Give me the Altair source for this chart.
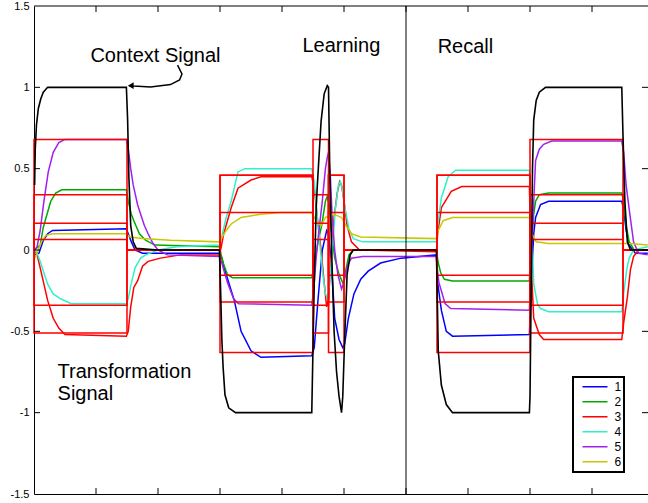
import altair as alt
import pandas as pd

# ---------------- data (time in steps, value in signal units) ----------------
series_names = ["1", "2", "3", "4", "5", "6"]
series_colors = ["#0000FF", "#00A800", "#FF0000", "#30F0C8", "#A020F0", "#C8C800"]

blue_t = [1, 8, 15, 22, 30, 149, 152, 157, 163, 175, 299, 303, 306, 314, 323, 334, 350, 366, 448,
          452, 458, 465, 472, 475, 480, 485, 492, 498, 501, 507, 516, 527, 539, 559, 592, 649,
          651, 657, 665, 675, 799, 802, 806, 809, 817, 830, 948, 951, 955, 960, 970, 990]
blue_y = [-0.03, -0.02, 0.06, 0.10, 0.12, 0.13, 0.10, 0.05, 0.0, -0.02, -0.02, -0.05, -0.10, -0.20, -0.31, -0.50, -0.62, -0.66, -0.65,
          -0.60, -0.31, 0.0, 0.12, 0.10, -0.10, -0.42, -0.55, -0.60, -0.58, -0.42, -0.27, -0.18, -0.13, -0.08, -0.05, -0.03,
          -0.20, -0.37, -0.50, -0.53, -0.52, -0.20, 0.10, 0.20, 0.28, 0.30, 0.30, 0.25, 0.12, 0.03, -0.02, -0.02]

green_t = [1, 10, 15, 21, 27, 35, 45, 149, 152, 157, 161, 170, 180, 195, 299, 302, 306, 312, 320, 448,
           452, 458, 464, 470, 473, 476, 480, 485, 492, 499, 503, 508, 515, 649,
           652, 656, 662, 675, 799, 802, 806, 809, 815, 830, 948, 951, 955, 960, 968, 990]
green_y = [0.0, 0.03, 0.14, 0.22, 0.30, 0.35, 0.37, 0.37, 0.30, 0.22, 0.18, 0.10, 0.06, 0.03, 0.02, -0.03, -0.09, -0.15, -0.17, -0.17,
           -0.10, 0.05, 0.15, 0.30, 0.33, 0.28, 0.10, -0.05, -0.15, -0.21, -0.12, -0.03, 0.0, 0.0,
           -0.08, -0.14, -0.18, -0.19, -0.19, 0.05, 0.22, 0.30, 0.34, 0.35, 0.35, 0.30, 0.15, 0.05, 0.0, 0.0]

red_t = [1, 5, 10, 22, 31, 40, 50, 149, 152, 156, 161, 167, 175, 184, 204, 236, 299, 302, 306, 318, 329, 350, 366, 448,
         452, 457, 463, 468, 472, 475, 479, 484, 489, 493, 496, 500, 505, 512, 525, 649,
         651, 657, 673, 690, 799, 802, 806, 815, 822, 948, 951, 957, 962, 967, 975, 990]
red_y = [0.0, -0.03, -0.11, -0.31, -0.42, -0.48, -0.52, -0.53, -0.50, -0.35, -0.23, -0.19, -0.10, -0.07, -0.05, -0.03, -0.03, 0.02, 0.10, 0.26, 0.38, 0.43, 0.45, 0.45,
         0.38, 0.20, 0.0, -0.20, -0.35, -0.30, -0.05, 0.20, 0.35, 0.42, 0.40, 0.30, 0.15, 0.05, 0.0, -0.01,
         0.10, 0.26, 0.36, 0.39, 0.39, -0.10, -0.42, -0.52, -0.55, -0.55, -0.45, -0.29, -0.12, -0.04, 0.0, 0.0]

cyan_t = [1, 5, 10, 22, 31, 43, 60, 149, 152, 156, 163, 172, 180, 200, 230, 299, 302, 310, 318, 329, 340, 448,
          452, 457, 462, 466, 470, 474, 477, 481, 486, 491, 494, 497, 502, 508, 515, 530, 649,
          651, 657, 668, 680, 799, 802, 806, 812, 817, 830, 948, 950, 951, 956, 960, 967, 990]
cyan_y = [0.0, -0.02, -0.07, -0.21, -0.27, -0.30, -0.33, -0.33, -0.30, -0.22, -0.11, -0.05, -0.03, 0.0, 0.02, 0.03, 0.07, 0.20, 0.30, 0.48, 0.50, 0.50,
          0.42, 0.20, 0.0, -0.15, -0.27, -0.30, -0.20, 0.0, 0.25, 0.40, 0.42, 0.38, 0.25, 0.13, 0.07, 0.05, 0.05,
          0.15, 0.32, 0.45, 0.49, 0.49, 0.20, -0.21, -0.33, -0.36, -0.38, -0.38, -0.33, -0.27, -0.12, -0.05, 0.0, 0.02]

purple_t = [1, 5, 10, 16, 23, 31, 40, 50, 149, 152, 156, 160, 167, 172, 178, 184, 192, 200, 215, 299,
            303, 308, 313, 322, 330, 448, 451, 455, 459, 465, 470, 473, 475, 478, 481, 485, 490, 496, 500, 505, 512, 530, 649,
            650, 653, 657, 663, 672, 799, 802, 806, 809, 815, 822, 835, 948, 951, 955, 960, 967, 975, 990]
purple_y = [0.0, 0.02, 0.12, 0.30, 0.48, 0.60, 0.66, 0.68, 0.68, 0.62, 0.50, 0.40, 0.28, 0.22, 0.15, 0.10, 0.04, 0.0, -0.03, -0.04,
            -0.08, -0.15, -0.21, -0.30, -0.33, -0.34, -0.25, -0.05, 0.10, 0.30, 0.50, 0.57, 0.60, 0.45, 0.20, 0.0, -0.15, -0.24, -0.20, -0.10, -0.05, -0.04, -0.04,
            -0.10, -0.20, -0.25, -0.33, -0.36, -0.37, -0.10, 0.30, 0.55, 0.62, 0.65, 0.67, 0.67, 0.60, 0.40, 0.25, 0.05, -0.02, -0.03]

yellow_t = [1, 5, 12, 19, 30, 149, 155, 175, 220, 299, 302, 310, 318, 334, 366, 398, 448,
            455, 463, 470, 480, 490, 496, 503, 512, 527, 649, 652, 660, 675, 799, 803, 810, 830, 948, 960, 990]
yellow_y = [-0.05, -0.02, 0.05, 0.09, 0.10, 0.10, 0.08, 0.07, 0.06, 0.05, 0.07, 0.12, 0.16, 0.20, 0.22, 0.23, 0.23,
            0.18, 0.15, 0.20, 0.22, 0.21, 0.20, 0.15, 0.10, 0.08, 0.07, 0.12, 0.18, 0.20, 0.20, 0.10, 0.05, 0.04, 0.04, 0.04, 0.03]

context_t = [1, 2, 4, 7, 11, 15, 22, 149, 151, 153, 156, 160, 165, 200, 299,
             301, 303, 305, 308, 314, 325, 448, 450, 452, 455, 457, 463, 468, 473, 475,
             477, 480, 484, 488, 492, 496, 498, 501, 505, 510, 515, 649,
             652, 657, 665, 675, 799, 800, 802, 804, 806, 810, 815, 825, 948,
             950, 953, 957, 962, 990]
context_y = [0.40, 0.62, 0.77, 0.87, 0.93, 0.97, 1.0, 1.0, 0.80, 0.45, 0.15, 0.05, 0.01, 0.0, 0.0,
             -0.25, -0.55, -0.72, -0.89, -0.97, -1.0, -1.0, -0.60, -0.20, 0.25, 0.40, 0.79, 0.96, 1.01, 1.0,
             0.50, 0.0, -0.50, -0.75, -0.90, -1.0, -0.90, -0.55, -0.15, -0.03, 0.0, 0.0,
             -0.62, -0.83, -0.95, -1.0, -1.0, -0.90, -0.20, 0.50, 0.80, 0.92, 0.97, 1.0, 1.0,
             0.70, 0.30, 0.05, 0.0, 0.0]

# target levels for the two associations (A: context +1, B: context -1)
target_A = [0.165, 0.34, -0.51, -0.34, 0.68, 0.065]
target_B = [-0.63, -0.155, 0.46, 0.46, -0.32, 0.23]
# phases: (start, end, which target)
phases = [(0, 150, "A"), (300, 450, "B"), (450, 475, "A"), (475, 500, "B"),
          (650, 800, "B"), (800, 950, "A")]
t_end = 990

# annotations
labels_text = ["Context Signal", "Learning", "Recall", "Transformation", "Signal"]
labels_t = [91, 433, 651, 38, 38]
labels_y = [1.156, 1.217, 1.211, -0.787, -0.922]
arrow_t = [231.5, 238.7, 234.7, 220.2, 188, 160.5, 154]
arrow_y = [1.137, 1.082, 1.045, 1.017, 1.002, 1.008, 1.010]
arrow_tip_t = [156]
arrow_tip_y = [1.010]

y_tick_vals = [-1, -0.5, 0, 0.5, 1]
x_tick_vals = [100, 200, 300, 400, 500, 600, 700, 800, 900]
divider_t = [600]

# ---------------- build tables ----------------
traces = [(blue_t, blue_y), (green_t, green_y), (red_t, red_y),
          (cyan_t, cyan_y), (purple_t, purple_y), (yellow_t, yellow_y)]
rows = []
for name, (ts, ys) in zip(series_names, traces):
    for i, (t, v) in enumerate(zip(ts, ys)):
        rows.append({"t": t, "v": v, "series": name, "i": i})
df_traces = pd.DataFrame(rows)

df_context = pd.DataFrame({"t": context_t, "v": context_y, "i": range(len(context_t))})

trows = []
for k, name in enumerate(series_names):
    pts = []
    prev_end = None
    for (s, e, which) in phases:
        lvl = target_A[k] if which == "A" else target_B[k]
        if prev_end is None or prev_end != s:
            if prev_end is not None:
                pts.append((prev_end, 0.0))
            pts.append((s, 0.0))
        pts.append((s, lvl))
        pts.append((e, lvl))
        prev_end = e
    pts.append((prev_end, 0.0))
    pts.append((t_end, 0.0))
    for i, (t, v) in enumerate(pts):
        trows.append({"t": t, "v": v, "series": name, "i": i})
df_targets = pd.DataFrame(trows)

df_labels = pd.DataFrame({"t": labels_t, "v": labels_y, "text": labels_text})
df_arrow = pd.DataFrame({"t": arrow_t, "v": arrow_y, "i": range(len(arrow_t))})
df_tip = pd.DataFrame({"t": arrow_tip_t, "v": arrow_tip_y})
df_yt = pd.DataFrame({"v": y_tick_vals})
df_xt = pd.DataFrame({"t": x_tick_vals})
df_div = pd.DataFrame({"t": divider_t})
df_top = pd.DataFrame({"t": [0], "t2": [t_end + 0.3], "v": [1.5]})

# ---------------- scales / axes ----------------
xs = alt.Scale(domain=[0, 990.3], nice=False, zero=False)
ys = alt.Scale(domain=[-1.5, 1.5], nice=False, zero=False)
xax = alt.Axis(labels=False, ticks=False, grid=False, domainColor="black", domainWidth=1, title=None)
yax = alt.Axis(values=[-1.5, -1, -0.5, 0, 0.5, 1, 1.5], labelExpr="toString(datum.value)",
               ticks=False, grid=False, domainColor="black", domainWidth=1, title=None,
               labelFont="Liberation Sans", labelFontSize=11, labelColor="black", labelPadding=5)

X = lambda f="t": alt.X(f"{f}:Q", scale=xs, axis=xax)
Y = lambda f="v": alt.Y(f"{f}:Q", scale=ys, axis=yax)

legend = alt.Legend(title=None, orient="none", legendX=539, legendY=371, symbolType="stroke",
                    symbolSize=625, symbolStrokeWidth=1.5, symbolOffset=6, labelOffset=6,
                    labelFont="Liberation Sans", labelFontSize=12, labelColor="black",
                    clipHeight=14.5, padding=2.5, rowPadding=0, strokeColor="black", fillColor="white",
                    labelExpr="datum.label + '\u00a0\u00a0\u00a0\u00a0'")

trace_layer = alt.Chart(df_traces).mark_line(strokeWidth=1.5).encode(
    x=X(), y=Y(),
    color=alt.Color("series:N", scale=alt.Scale(domain=series_names, range=series_colors), legend=legend),
    order=alt.Order("i:Q"),
)
target_layer = alt.Chart(df_targets).mark_line(strokeWidth=1.5, color="#FF0000").encode(
    x=X(), y=Y(), detail="series:N", order=alt.Order("i:Q"))
context_layer = alt.Chart(df_context).mark_line(strokeWidth=1.6, color="black").encode(
    x=X(), y=Y(), order=alt.Order("i:Q"))
div_layer = alt.Chart(df_div).mark_rule(color="black", strokeWidth=1).encode(x=X())
top_layer = alt.Chart(df_top).mark_rule(color="black", strokeWidth=1).encode(x=X(), x2="t2:Q", y=Y())
text_layer = alt.Chart(df_labels).mark_text(align="left", baseline="alphabetic", font="Liberation Sans",
                                            fontSize=20, color="black").encode(x=X(), y=Y(), text="text:N")
arrow_layer = alt.Chart(df_arrow).mark_line(color="black", strokeWidth=1.5).encode(
    x=X(), y=Y(), order=alt.Order("i:Q"))
tip_layer = alt.Chart(df_tip).mark_point(shape="triangle-left", filled=True, color="black", size=45, opacity=1).encode(
    x=X(), y=Y())
ytick_l = alt.Chart(df_yt).mark_rule(color="black").encode(x=alt.value(0), x2=alt.value(6), y=Y())
ytick_r = alt.Chart(df_yt).mark_rule(color="black").encode(x=alt.value(608), x2=alt.value(614), y=Y())
xtick_b = alt.Chart(df_xt).mark_rule(color="black").encode(x=X(), y=alt.value(488), y2=alt.value(482))
xtick_t = alt.Chart(df_xt).mark_rule(color="black").encode(x=X(), y=alt.value(0), y2=alt.value(6))

chart = alt.layer(
    trace_layer, target_layer, context_layer, div_layer, top_layer,
    ytick_l, ytick_r, xtick_b, xtick_t, arrow_layer, tip_layer, text_layer
).properties(
    width=614, height=488,
    padding={"left": 34, "top": 6, "right": 0, "bottom": 9},
    autosize=alt.AutoSizeParams(type="none"),
    background="white",
).configure_view(stroke=None).configure_legend(strokeWidth=2)

chart.save("out.html", embed_options={"renderer": "svg", "actions": False})
